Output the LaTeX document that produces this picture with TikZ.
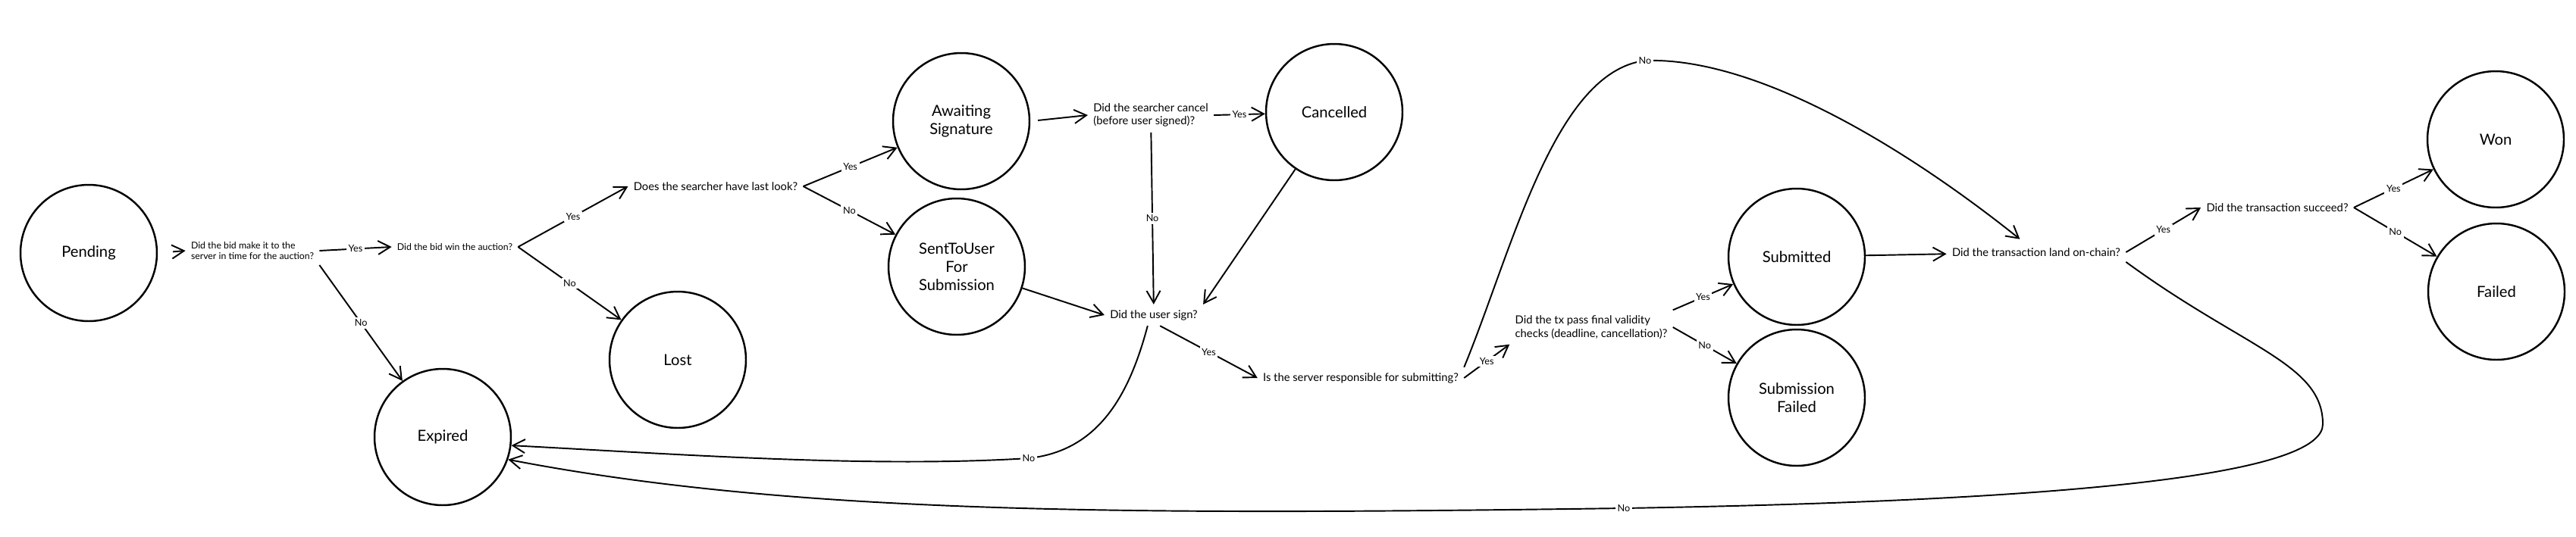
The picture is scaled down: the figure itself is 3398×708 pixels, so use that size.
\documentclass[tikz,border=0pt]{standalone}
\usepackage{fontspec}
\setmainfont{Lato}
\usetikzlibrary{arrows.meta}

\begin{document}
\begin{tikzpicture}[x=0.02cm,y=-0.02cm,
  state/.style={draw,circle,line width=1.4pt,minimum size=3.6cm,inner sep=0pt,align=center,font=\fontsize{11.5}{13.6}\selectfont},
  quest/.style={inner sep=4pt,align=left,font=\fontsize{8.4}{10}\selectfont},
  smallquest/.style={quest,font=\fontsize{7}{8}\selectfont},
  lbl/.style={fill=white,inner sep=1.5pt,font=\fontsize{7.2}{8}\selectfont},
  arr/.style={line width=1.1pt,-{Straight Barb[length=3.2mm,width=3.6mm]}}]
  \useasboundingbox (0,0) rectangle (3398,708);
  \node[state] (pending) at (117,334) {Pending};
  \node[state] (expired) at (584,577) {Expired};
  \node[state] (lost) at (894,475) {Lost};
  \node[state] (awaiting) at (1268,160) {Awaiting\\Signature};
  \node[state] (sent) at (1262,352) {SentToUser\\For\\Submission};
  \node[state] (cancelled) at (1760,148) {Cancelled};
  \node[state] (submitted) at (2370,339) {Submitted};
  \node[state] (subfailed) at (2370,525) {Submission\\Failed};
  \node[state] (won) at (3292,184) {Won};
  \node[state] (failed) at (3293,385) {Failed};
  \node[smallquest] (qtime) at (333,331) {Did the bid make it to the\\server in time for the auction?};
  \node[smallquest] (qwin) at (600,326) {Did the bid win the auction?};
  \node[quest] (qlook) at (944,246) {Does the searcher have last look?};
  \node[quest] (qcancel) at (1518,152) {Did the searcher cancel\\(before user signed)?};
  \node[quest] (qsign) at (1522,416) {Did the user sign?};
  \node[quest] (qserver) at (1795,499) {Is the server responsible for submitting?};
  \node[quest] (qvalid) at (2099,432) {Did the tx pass final validity\\checks (deadline, cancellation)?};
  \node[quest] (qland) at (2686,333) {Did the transaction land on-chain?};
  \node[quest] (qsucceed) at (3004,274) {Did the transaction succeed?};
  \draw[arr,shorten <=0.4cm] (pending.east) -- (qtime.west);
  \draw[arr] (qtime.east) -- node[lbl] {Yes} (qwin.west);
  \draw[arr] (qtime.south east) -- node[lbl] {No} (expired);
  \draw[arr] (qwin.east) -- node[lbl] {Yes} (qlook.west);
  \draw[arr] (qwin.east) -- node[lbl] {No} (lost);
  \draw[arr] (qlook.east) -- node[lbl] {Yes} (awaiting);
  \draw[arr] (qlook.east) -- node[lbl] {No} (sent);
  \draw[arr,shorten <=0.2cm] (awaiting.east) -- (qcancel.west);
  \draw[arr] (qcancel.east) -- node[lbl] {Yes} (cancelled);
  \draw[arr] (qcancel) -- node[lbl] {No} (qsign);
  \draw[arr] (cancelled) -- (qsign.north east);
  \draw[arr] (sent) -- (qsign.west);
  \draw[arr] (qsign.-60) -- node[lbl] {Yes} (qserver.west);
  \draw[arr] (qsign.-120) .. controls (1490,520) and (1450,595) .. (1357,605) node[lbl] {No}
    .. controls (1150,618) and (900,600) .. (expired.-7);
  \draw[arr] (qserver.east) -- node[lbl] {Yes} (qvalid.south west);
  \draw[arr,shorten >=4pt] (qserver.north east) .. controls (1995,330) and (2050,95) .. (2170,80) node[lbl] {No}
    .. controls (2320,75) and (2520,200) .. (qland);
  \draw[arr] (qvalid.north east) -- node[lbl] {Yes} (submitted);
  \draw[arr] (qvalid.east) -- node[lbl] {No} (subfailed);
  \draw[arr] (submitted) -- (qland);
  \draw[arr] (qland.east) -- node[lbl] {Yes} (qsucceed.west);
  \draw[arr] (qland.south east) .. controls (2960,460) and (3064,480) .. (3064,560)
    .. controls (3064,620) and (2800,660) .. (2142,671) node[lbl] {No}
    .. controls (1500,680) and (1050,680) .. (expired.-19);
  \draw[arr] (qsucceed.east) -- node[lbl] {Yes} (won);
  \draw[arr] (qsucceed.east) -- node[lbl] {No} (failed);
\end{tikzpicture}
\end{document}
